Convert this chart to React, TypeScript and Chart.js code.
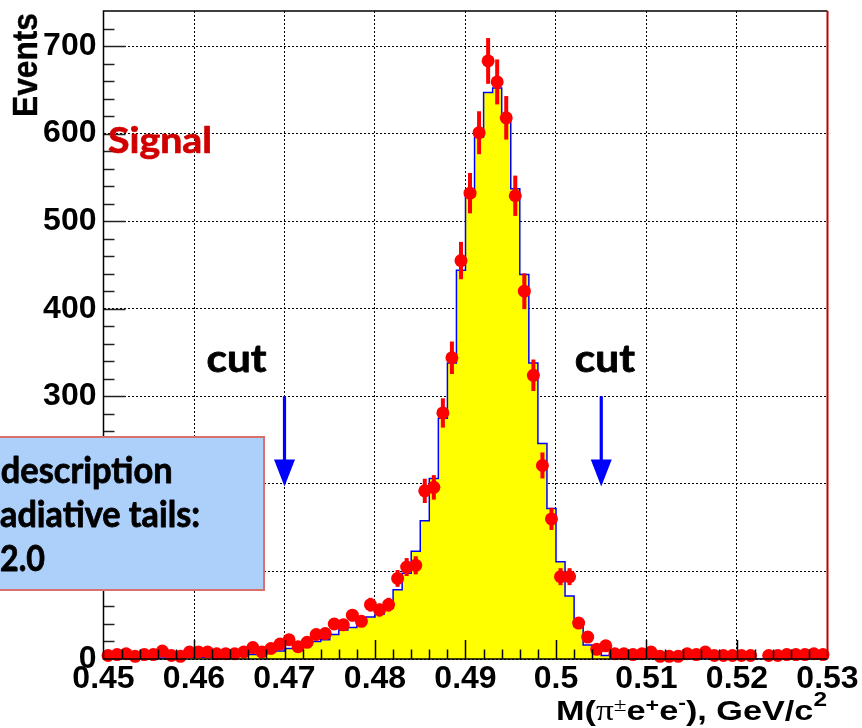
import React, { useEffect, useRef } from "react";
import { Chart, registerables } from "chart.js";

Chart.register(...registerables);

// ---- histogram binning ----
const binLow = 0.45;
const binWidth = 0.001;
const binCount = 80;

// data points (events per bin)
const dataCounts = [
  4, 5, 6, 3, 5, 5, 9, 4, 3, 8,
  8, 8, 6, 6, 6, 8, 13, 8, 12, 17,
  22, 14, 19, 28, 29, 40, 39, 50, 43, 62,
  56, 62, 92, 105, 107, 192, 196, 281, 344, 455,
  532, 601, 683, 659, 618, 529, 420, 324, 221, 160,
  94, 94, 41, 25, 11, 15, 6, 6, 5, 6,
  8, 3, 3, 3, 6, 5, 8, 4, 4, 4,
  4, 4, 0, 4, 4, 5, 5, 5, 6, 5,
];

// simulated signal histogram (yellow)
const mcCounts = [
  1, 1, 1, 1, 1, 1, 1, 2, 2, 2,
  2, 2, 3, 3, 3, 4, 5, 6, 8, 9,
  12, 15, 18, 20, 22, 28, 33, 36, 45, 48,
  51, 58, 79, 98, 123, 158, 206, 275, 338, 444,
  528, 596, 647, 652, 615, 537, 439, 338, 246, 172,
  111, 72, 37, 16, 8, 4, 2, 1, 1, 1,
  1, 1, 1, 1, 1, 1, 1, 0, 0, 0,
  0, 0, 0, 0, 0, 0, 0, 0, 0, 0,
];

const xTickValues = [0.45, 0.46, 0.47, 0.48, 0.49, 0.5, 0.51, 0.52, 0.53];
const xTickLabels = ["0.45", "0.46", "0.47", "0.48", "0.49", "0.5", "0.51", "0.52", "0.53"];
const yTickValues = [0, 100, 200, 300, 400, 500, 600, 700];
const yTickLabels = ["0", "100", "200", "300", "400", "500", "600", "700"];

const xMin = 0.45;
const xMax = 0.53;
const yMin = 0;
const yMax = 740;

// annotations (data coordinates)
const cutPositions = [0.47, 0.505];
const cutArrowTop = 300;
const cutArrowTip = 197;
const cutLabelX = [0.4647, 0.5054];
const cutLabelY = 328;
const signalLabel = { text: "Signal", x: 0.4505, y: 578 };
const boxLines = ["description", "adiative tails:", "2.0"];

const AXIS_FONT = "'Liberation Sans', Arial, Helvetica, sans-serif";
const TEXT_FONT = "Lato, 'Open Sans', sans-serif";

function fitText(
  ctx: CanvasRenderingContext2D,
  text: string,
  font: string,
  x: number,
  y: number,
  width: number,
  align: CanvasTextAlign,
  heavy = 0
) {
  ctx.save();
  ctx.font = font;
  const w = ctx.measureText(text).width;
  const sx = width / w;
  ctx.translate(x, y);
  ctx.scale(sx, 1);
  ctx.textAlign = align;
  ctx.textBaseline = "alphabetic";
  ctx.fillText(text, 0, 0);
  if (heavy > 0) {
    ctx.strokeStyle = ctx.fillStyle as string;
    ctx.lineWidth = heavy;
    ctx.lineJoin = "round";
    ctx.strokeText(text, 0, 0);
  }
  ctx.restore();
}

const decorPlugin = {
  id: "decor",
  beforeDatasetDraw(chart: any, args: any) {
    if (args.index !== 0) return;
    const xs = chart.scales.x;
    const ys = chart.scales.y;
    const ctx: CanvasRenderingContext2D = chart.ctx;
    ctx.save();
    ctx.strokeStyle = "#ff0000";
    ctx.lineWidth = 4;
    dataCounts.forEach((n, i) => {
      if (n <= 0) return;
      const c = binLow + (i + 0.5) * binWidth;
      const e = Math.sqrt(n);
      const px = xs.getPixelForValue(c);
      ctx.beginPath();
      ctx.moveTo(px, ys.getPixelForValue(Math.max(0, n - e)));
      ctx.lineTo(px, ys.getPixelForValue(n + e));
      ctx.stroke();
    });
    ctx.restore();
  },
  afterDatasetsDraw(chart: any) {
    const xs = chart.scales.x;
    const ys = chart.scales.y;
    const ctx: CanvasRenderingContext2D = chart.ctx;
    const a = chart.chartArea;
    ctx.save();
    // y ticks (inward)
    ctx.strokeStyle = "#222";
    ctx.lineWidth = 1.5;
    for (let k = 1; k * 20 < yMax; k++) {
      const v = k * 20;
      const py = Math.round(ys.getPixelForValue(v)) + 0.5;
      const len = k % 5 === 0 ? 22 : 11;
      ctx.beginPath();
      ctx.moveTo(a.left, py);
      ctx.lineTo(a.left + len, py);
      ctx.stroke();
    }
    // x ticks (inward)
    ctx.strokeStyle = "#000";
    for (let k = 1; k < 40; k++) {
      const v = xMin + k * 0.002;
      const px = Math.round(xs.getPixelForValue(v)) + 0.5;
      const len = k % 5 === 0 ? 19 : 9.5;
      ctx.beginPath();
      ctx.moveTo(px, a.bottom);
      ctx.lineTo(px, a.bottom - len);
      ctx.stroke();
    }
    // frame
    ctx.lineWidth = 1.5;
    ctx.strokeStyle = "#000";
    ctx.beginPath();
    ctx.moveTo(a.right, a.top);
    ctx.lineTo(a.left, a.top);
    ctx.lineTo(a.left, a.bottom);
    ctx.lineTo(a.right, a.bottom);
    ctx.stroke();
    ctx.strokeStyle = "#c00000";
    ctx.lineWidth = 2;
    ctx.beginPath();
    ctx.moveTo(a.right, a.top);
    ctx.lineTo(a.right, a.bottom);
    ctx.stroke();
    ctx.restore();
  },
  afterDraw(chart: any) {
    const xs = chart.scales.x;
    const ys = chart.scales.y;
    const ctx: CanvasRenderingContext2D = chart.ctx;
    ctx.save();

    // Signal label
    ctx.fillStyle = "#d00000";
    fitText(ctx, signalLabel.text, `bold 37px ${TEXT_FONT}`, xs.getPixelForValue(signalLabel.x), ys.getPixelForValue(signalLabel.y), 104, "left", 0.7);

    // cut labels and arrows
    ctx.fillStyle = "#000";
    cutLabelX.forEach((cx) => {
      fitText(ctx, "cut", `bold 39px ${TEXT_FONT}`, xs.getPixelForValue(cx), ys.getPixelForValue(cutLabelY), 60, "center", 0.8);
    });
    cutPositions.forEach((cx) => {
      const px = xs.getPixelForValue(cx);
      const top = ys.getPixelForValue(cutArrowTop);
      const tip = ys.getPixelForValue(cutArrowTip);
      ctx.strokeStyle = "#0000ff";
      ctx.fillStyle = "#0000ff";
      ctx.lineWidth = 3.2;
      ctx.beginPath();
      ctx.moveTo(px, top);
      ctx.lineTo(px, tip - 20);
      ctx.stroke();
      ctx.beginPath();
      ctx.moveTo(px - 10.5, tip - 27);
      ctx.lineTo(px + 10.5, tip - 27);
      ctx.lineTo(px, tip);
      ctx.closePath();
      ctx.fill();
    });

    // info box (cut off at the left edge)
    ctx.fillStyle = "#add0fb";
    ctx.strokeStyle = "#d9706b";
    ctx.lineWidth = 2;
    ctx.beginPath();
    ctx.rect(-20, 437, 284, 153);
    ctx.fill();
    ctx.stroke();
    ctx.fillStyle = "#000";
    const boxWidths = [172, 200, 45];
    const boxBase = [483, 527, 571];
    const boxLeft = [0.7, 0, 0];
    boxLines.forEach((t, i) => {
      fitText(ctx, t, `bold 37px ${TEXT_FONT}`, boxLeft[i], boxBase[i], boxWidths[i], "left", 0.8);
    });

    // y axis title
    ctx.fillStyle = "#000";
    ctx.save();
    ctx.translate(37, 13);
    ctx.rotate(-Math.PI / 2);
    fitText(ctx, "Events", `bold 35px ${AXIS_FONT}`, 0, 0, 104, "right", 0.4);
    ctx.restore();

    // x axis title: M(π±e+e-), GeV/c2
    const segs = [
      { t: "M(", f: `bold 28px ${AXIS_FONT}`, rise: 0 },
      { t: "\u03c0", f: `29px 'Liberation Serif', 'DejaVu Serif', serif`, rise: 0 },
      { t: "\u00b1", f: `19px 'Liberation Serif', 'DejaVu Serif', serif`, rise: 9 },
      { t: "e", f: `bold 28px ${AXIS_FONT}`, rise: 0 },
      { t: "+", f: `bold 19px ${AXIS_FONT}`, rise: 9 },
      { t: "e", f: `bold 28px ${AXIS_FONT}`, rise: 0 },
      { t: "-", f: `bold 19px ${AXIS_FONT}`, rise: 11 },
      { t: "), GeV/c", f: `bold 28px ${AXIS_FONT}`, rise: 0 },
      { t: "2", f: `bold 20px ${AXIS_FONT}`, rise: 14 },
    ];
    let total = 0;
    const widths = segs.map((s) => {
      ctx.font = s.f;
      const w = ctx.measureText(s.t).width;
      total += w;
      return w;
    });
    const targetW = 271;
    const sx = targetW / total;
    ctx.save();
    ctx.translate(827 - targetW, 720);
    ctx.scale(sx, 1);
    ctx.textAlign = "left";
    ctx.textBaseline = "alphabetic";
    let cx = 0;
    segs.forEach((s, i) => {
      ctx.font = s.f;
      ctx.fillText(s.t, cx, -s.rise);
      cx += widths[i];
    });
    ctx.restore();

    ctx.restore();
  },
};

export default function App() {
  const ref = useRef<HTMLCanvasElement | null>(null);
  useEffect(() => {
    document.body.style.margin = "0";
    const canvas = ref.current;
    if (!canvas) return;

    const points = dataCounts
      .map((n, i) => ({ x: binLow + (i + 0.5) * binWidth, y: n }))
      .filter((p) => p.y > 0);
    const hist = mcCounts.map((n, i) => ({ x: binLow + i * binWidth, y: n }));
    hist.push({ x: binLow + binCount * binWidth, y: mcCounts[binCount - 1] });

    const chart = new Chart(canvas, {
      type: "scatter",
      data: {
        datasets: [
          {
            label: "Data",
            data: points,
            pointRadius: 6.5,
            pointHoverRadius: 6.5,
            pointBackgroundColor: "#ff0000",
            pointBorderWidth: 0,
            pointBorderColor: "#ff0000",
            showLine: false,
            clip: false,
          } as any,
          {
            type: "line",
            label: "Signal MC",
            data: hist,
            stepped: true,
            fill: "origin",
            backgroundColor: "#ffff00",
            borderColor: "#0000ff",
            borderWidth: 1.5,
            pointRadius: 0,
            pointHoverRadius: 0,
            tension: 0,
          } as any,
        ],
      },
      options: {
        responsive: false,
        animation: false,
        devicePixelRatio: 1,
        events: [],
        layout: { padding: { left: 0, top: 11, right: 34.5, bottom: 0 } },
        plugins: { legend: { display: false }, tooltip: { enabled: false }, title: { display: false } },
        scales: {
          x: {
            type: "linear",
            min: xMin,
            max: xMax,
            afterBuildTicks: (s: any) => {
              s.ticks = xTickValues.map((v) => ({ value: v }));
            },
            afterFit: (s: any) => {
              s.height = 69;
              s.paddingLeft = 0;
              s.paddingRight = 0;
            },
            ticks: {
              callback: (_v: any, i: number) => xTickLabels[i],
              font: { family: AXIS_FONT, size: 32, weight: "bold" },
              color: "#000",
              padding: 1,
              maxRotation: 0,
              minRotation: 0,
              autoSkip: false,
            },
            grid: { color: "#000", lineWidth: 1, drawTicks: false },
            border: { display: false, dash: [2, 2] },
          },
          y: {
            type: "linear",
            min: yMin,
            max: yMax,
            afterBuildTicks: (s: any) => {
              s.ticks = yTickValues.map((v) => ({ value: v }));
            },
            afterFit: (s: any) => {
              s.width = 103.5;
              s.paddingTop = 0;
              s.paddingBottom = 0;
            },
            ticks: {
              callback: (_v: any, i: number) => yTickLabels[i],
              font: { family: AXIS_FONT, size: 32, weight: "bold" },
              color: "#000",
              padding: 7,
              autoSkip: false,
            },
            grid: { color: "#000", lineWidth: 1, drawTicks: false },
            border: { display: false, dash: [2, 2] },
          },
        },
      } as any,
      plugins: [decorPlugin],
    });
    return () => chart.destroy();
  }, []);

  return (
    <div style={{ position: "fixed", left: 0, top: 0, width: 862, height: 728, background: "#fff" }}>
      <canvas ref={ref} width={862} height={728} style={{ width: 862, height: 728, display: "block" }} />
    </div>
  );
}
